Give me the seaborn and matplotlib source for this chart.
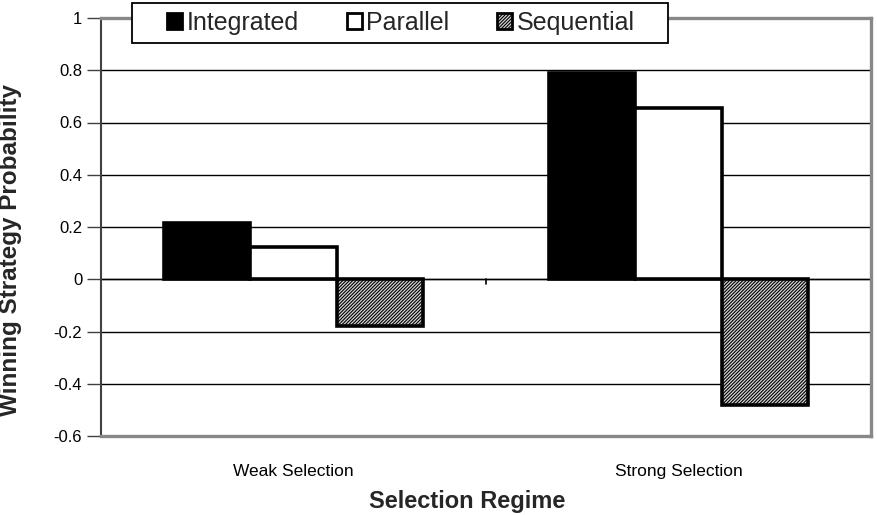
import matplotlib
matplotlib.use("Agg")
import matplotlib.pyplot as plt
import seaborn as sns
import pandas as pd
from matplotlib.patches import Patch, Rectangle

regimes = ["Weak Selection", "Strong Selection"]
strategies = ["Integrated", "Parallel", "Sequential"]
integrated = [0.214, 0.789]
parallel = [0.122, 0.655]
sequential = [-0.18, -0.48]
yticks = [-0.6, -0.4, -0.2, 0, 0.2, 0.4, 0.6, 0.8, 1]
ytick_labels = ["-0.6", "-0.4", "-0.2", "0", "0.2", "0.4", "0.6", "0.8", "1"]

rows = []
for s, vals in zip(strategies, [integrated, parallel, sequential]):
    for r, v in zip(regimes, vals):
        rows.append({"regime": r, "strategy": s, "value": v})
df = pd.DataFrame(rows)

sns.set_theme(style="white")
plt.rcParams["font.family"] = ["Liberation Sans", "DejaVu Sans"]
plt.rcParams["hatch.color"] = "#333333"
plt.rcParams["hatch.linewidth"] = 0.8

W, H = 877, 515
fig = plt.figure(figsize=(W / 100, H / 100), dpi=100)
ax = fig.add_axes([101 / W, 1 - 436 / H, 770 / W, 418 / H])

sns.barplot(data=df, x="regime", y="value", hue="strategy", order=regimes,
            hue_order=strategies, width=0.675, ax=ax, legend=False,
            errorbar=None, saturation=1)

styles = {
    "Integrated": dict(facecolor="black", hatch=None),
    "Parallel": dict(facecolor="white", hatch=None),
    "Sequential": dict(facecolor="#d4d4d4", hatch="//////////"),
}
for cont, s in zip(ax.containers, strategies):
    for p in cont:
        p.set_facecolor(styles[s]["facecolor"])
        p.set_edgecolor("black")
        p.set_linewidth(2.6)
        p.set_zorder(3)
        if styles[s]["hatch"]:
            p.set_hatch(styles[s]["hatch"])

ax.set_ylim(-0.6, 1.0)
ax.set_xlim(-0.5, 1.5)
ax.set_yticks(yticks)
ax.set_yticklabels(ytick_labels, fontsize=12, color="black")
ax.tick_params(axis="x", labelsize=12.5, colors="black", length=0, pad=20)
ax.tick_params(axis="y", direction="out", length=10, width=1, color="#404040",
               left=True, pad=3.5)
ax.yaxis.grid(True, color="black", linewidth=1.0, zorder=0)
ax.set_axisbelow(True)
ax.axhline(0, color="black", linewidth=1.0, zorder=2)
# category separator tick on the category axis
ax.plot([0.5, 0.5], [0, -0.02], color="black", linewidth=1.2, zorder=2)

for side in ["top", "right", "bottom"]:
    ax.spines[side].set_visible(True)
    ax.spines[side].set_color("#888888")
    ax.spines[side].set_linewidth(2.4)
ax.spines["left"].set_color("#404040")
ax.spines["left"].set_linewidth(1.5)

ax.set_xlabel("Selection Regime", fontsize=17, fontweight="bold")
ax.xaxis.set_label_coords((467 - 101) / 770, -0.128)
ax.set_ylabel("Winning Strategy Probability", fontsize=17.5, fontweight="bold")
ax.yaxis.set_label_coords(-0.103, 0.445)

# legend box
fig.patches.append(Rectangle((132 / W, 1 - 43 / H), 536 / W, 40 / H,
                             transform=fig.transFigure, facecolor="white",
                             edgecolor="black", linewidth=1.3, zorder=5))
handles = [Patch(facecolor=styles[s]["facecolor"], edgecolor="black",
                 hatch=styles[s]["hatch"], linewidth=2.0) for s in strategies]
leg = fig.legend(handles, strategies, loc="center", ncol=3,
                 bbox_to_anchor=(401 / W, 1 - 23 / H), frameon=False,
                 fontsize=18, handlelength=0.6, handleheight=0.6,
                 handletextpad=0.2, columnspacing=1.9, borderpad=0.2)
leg.set_zorder(6)

fig.savefig("out.png", dpi=100)
